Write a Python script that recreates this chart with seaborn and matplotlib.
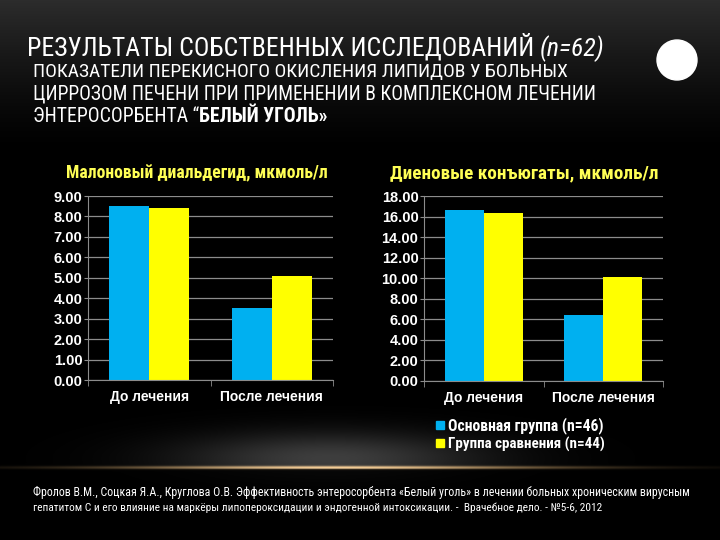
import numpy as np
import pandas as pd
import matplotlib
matplotlib.use("Agg")
import matplotlib.pyplot as plt
from matplotlib import font_manager
import seaborn as sns

# данные
periods = ["До лечения", "После лечения"]
groups = ["Основная группа (n=46)", "Группа сравнения (n=44)"]
mda_main = [8.50, 3.50]
mda_comp = [8.40, 5.10]
dk_main = [16.60, 6.40]
dk_comp = [16.30, 10.10]

colors = ["#00B0F0", "#FFFF00"]

sns.set_style("dark")

# узкий шрифт, если есть
names = {f.name for f in font_manager.fontManager.ttflist}
files = [f.fname.lower() for f in font_manager.fontManager.ttflist]
stretch = "normal"
if "Liberation Sans Narrow" in names:
    narrow = "Liberation Sans Narrow"
elif "Roboto Condensed" in names:
    narrow = "Roboto Condensed"
elif any("dejavusanscondensed" in f for f in files):
    narrow = "DejaVu Sans"
    stretch = "condensed"
else:
    narrow = "Liberation Sans"
plt.rcParams["font.family"] = ["Liberation Sans", "DejaVu Sans"]
NF = dict(family=[narrow, "DejaVu Sans"], stretch=stretch)


def make_df(main, comp):
    return pd.DataFrame({
        "period": periods * 2,
        "group": [groups[0]] * 2 + [groups[1]] * 2,
        "value": list(main) + list(comp),
    })


fig = plt.figure(figsize=(7.2, 5.4), dpi=100)
fig.patch.set_facecolor("black")

# фон: градиент сверху + свечение внизу
bg = fig.add_axes([0, 0, 1, 1])
yy, xx = np.mgrid[0:540, 0:720]
base = 44 * np.clip(1 - yy / 150.0, 0, 1) ** 1.3
glow = 62 * np.exp(-(((xx - 330) / 150.0) ** 2) - (((yy - 458) / 26.0) ** 2))
glow[yy > 468] *= 0.15
img = np.dstack([base + glow] * 3)
streak = np.exp(-(((xx - 340) / 230.0) ** 2)) * np.exp(-(((yy - 467) / 1.6) ** 2))
img[..., 0] += 190 * streak
img[..., 1] += 150 * streak
img[..., 2] += 95 * streak
bg.imshow(np.clip(img, 0, 255).astype(np.uint8), aspect="auto", extent=[0, 720, 540, 0])
bg.set_axis_off()
bg.add_patch(plt.Circle((677, 60), 20, color="white"))
bg.set_xlim(0, 720)
bg.set_ylim(540, 0)


def fy(py):
    return 1 - py / 540


# заголовки
t1 = fig.text(27 / 720, fy(56), "РЕЗУЛЬТАТЫ СОБСТВЕННЫХ ИССЛЕДОВАНИЙ ",
              color="white", fontsize=18, va="baseline", **NF)
s1 = fig.text(33 / 720, fy(77), "ПОКАЗАТЕЛИ ПЕРЕКИСНОГО ОКИСЛЕНИЯ ЛИПИДОВ У БОЛЬНЫХ",
              color="white", fontsize=12.5, va="baseline", **NF)
s2 = fig.text(33 / 720, fy(100), "ЦИРРОЗОМ ПЕЧЕНИ ПРИ ПРИМЕНЕНИИ В КОМПЛЕКСНОМ ЛЕЧЕНИИ",
              color="white", fontsize=12.5, va="baseline", **NF)
t3 = fig.text(33 / 720, fy(122), "ЭНТЕРОСОРБЕНТА “",
              color="white", fontsize=12.5, va="baseline", **NF)

f1 = fig.text(33 / 720, fy(496),
              "Фролов В.М., Соцкая Я.А., Круглова О.В. Эффективность энтеросорбента «Белый уголь» "
              "в лечении больных хроническим вирусным",
              color="white", fontsize=7.3, va="baseline", **NF)
f2 = fig.text(33 / 720, fy(511),
              "гепатитом С и его влияние на маркёры липопероксидации и эндогенной интоксикации. -  "
              "Врачебное дело. - №5-6, 2012",
              color="white", fontsize=7.3, va="baseline", **NF)


def draw(ax, df, ymax, step, title, tx):
    sns.barplot(data=df, x="period", y="value", hue="group", palette=colors,
                width=0.65, gap=0, saturation=1, linewidth=0, ax=ax)
    ax.get_legend().remove()
    ax.set_facecolor("none")
    ax.set_ylim(0, ymax)
    ax.set_xlim(-0.5, 1.5)
    ticks = np.arange(0, ymax + 0.01, step)
    ax.set_yticks(ticks)
    ax.set_yticklabels([f"{v:.2f}" for v in ticks])
    ax.yaxis.grid(True, color="#8c8c8c", linewidth=0.9)
    ax.xaxis.grid(False)
    ax.set_axisbelow(True)
    for s in ["top", "right"]:
        ax.spines[s].set_visible(False)
    for s in ["left", "bottom"]:
        ax.spines[s].set_visible(True)
        ax.spines[s].set_color("#8c8c8c")
    ax.tick_params(axis="y", colors="#8c8c8c", labelcolor="white", labelsize=10.5,
                   length=3, direction="out", left=True, pad=1)
    ax.tick_params(axis="x", labelcolor="white", labelsize=10, length=0, pad=7)
    ax.set_xticks([-0.5, 0.5, 1.5], minor=True)
    ax.tick_params(axis="x", which="minor", colors="#8c8c8c", length=4, bottom=True)
    for lab in ax.get_xticklabels() + ax.get_yticklabels():
        lab.set_fontweight("bold")
    ax.set_xlabel("")
    ax.set_ylabel("")
    return ax.set_title(title, color="#FFFF55", fontsize=12, fontweight="bold", pad=13,
                        x=tx, **NF)


ax1 = fig.add_axes([88 / 720, fy(380), 245 / 720, 184 / 540])
h1 = draw(ax1, make_df(mda_main, mda_comp), 9, 1, "Малоновый диальдегид, мкмоль/л",
          0.5 - 14 / 245)

ax2 = fig.add_axes([424 / 720, fy(381), 239 / 720, 185 / 540])
h2 = draw(ax2, make_df(dk_main, dk_comp), 18, 2, "Диеновые конъюгаты, мкмоль/л",
          0.5 - 19 / 239)

handles = [plt.Line2D([], [], marker="s", linestyle="", markersize=6,
                      markerfacecolor=c, markeredgecolor=c) for c in colors]
leg = ax2.legend(handles, groups, loc="upper left", bbox_to_anchor=(0.025, -0.16),
                 frameon=False, handlelength=0.5, handletextpad=0.3, labelspacing=0.2,
                 borderaxespad=0, prop=font_manager.FontProperties(
                     family=[narrow, "DejaVu Sans"], stretch=stretch, weight="bold", size=11))
for txt in leg.get_texts():
    txt.set_color("white")

# подгоняем ширину текстов под оригинал
fig.canvas.draw()
r = fig.canvas.get_renderer()


def fit(t, width_px):
    w = t.get_window_extent(r).width
    t.set_fontsize(t.get_fontsize() * width_px / w)


fit(t1, 510)
fit(s1, 532)
fit(s2, 562)
fit(t3, 166)
fit(f1, 656)
fit(f2, 568)
fit(h1, 262)
fit(h2, 269)
for txt in leg.get_texts():
    fit(txt, 155)
fig.canvas.draw()

inv = fig.transFigure.inverted()
x1 = inv.transform((t1.get_window_extent(r).x1, 0))[0]
fig.text(x1, fy(56), "(n=62)", color="white", fontsize=t1.get_fontsize(),
         style="italic", va="baseline", **NF)
x3 = inv.transform((t3.get_window_extent(r).x1, 0))[0]
fig.text(x3, fy(122), "БЕЛЫЙ УГОЛЬ»", color="white", fontsize=t3.get_fontsize(),
         fontweight="bold", va="baseline", **NF)

fig.savefig("out.png", dpi=100, facecolor=fig.get_facecolor())
